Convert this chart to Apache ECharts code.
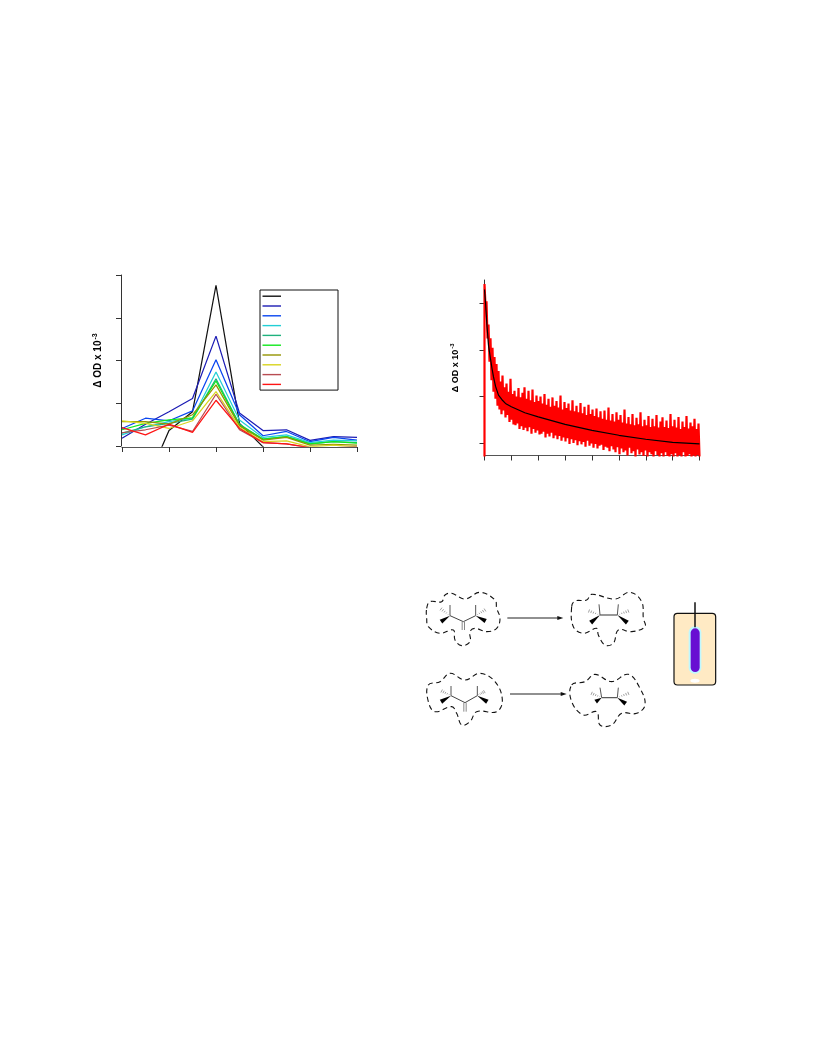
<!DOCTYPE html>
<html><head><meta charset="utf-8">
<style>html,body{margin:0;padding:0;background:#fff}#c{width:816px;height:1056px}</style>
<script src="https://cdn.jsdelivr.net/npm/echarts@6/dist/echarts.min.js"></script>
</head><body><div id="c"></div>
<script>
// ---------- Left chart data ----------
const specX = [0,0.5,1,1.5,2,2.5,3,3.5,4,4.5,5];
const black   = [-1.5,-0.9,0.36,0.80,3.76,0.53,-0.02,-0.4,-0.5,-0.5,-0.5];
const navy    = [0.18,0.51,0.80,1.11,2.57,0.77,0.36,0.38,0.13,0.22,0.20];
const blue    = [0.41,0.65,0.59,0.82,2.02,0.73,0.24,0.34,0.10,0.20,0.14];
const cyan    = [0.26,0.45,0.57,0.65,1.73,0.61,0.20,0.26,0.08,0.14,0.12];
const teal    = [0.30,0.45,0.53,0.63,1.57,0.51,0.16,0.22,0.05,0.10,0.08];
const green   = [0.38,0.53,0.61,0.66,1.52,0.49,0.16,0.22,0.05,0.10,0.07];
const olive   = [0.57,0.57,0.51,0.73,1.43,0.47,0.14,0.20,0.02,0.04,0.02];
const yellow  = [0.59,0.53,0.41,0.59,1.27,0.43,0.10,0.12,-0.02,0.02,-0.02];
const rosy    = [0.31,0.38,0.49,0.34,1.21,0.38,0.08,0.05,-0.04,-0.04,-0.02];
const red     = [0.43,0.26,0.51,0.32,1.07,0.41,0.08,0.05,-0.04,-0.05,-0.05];
const specRows = [black,navy,blue,cyan,teal,green,olive,yellow,rosy,red];
const specNames = ['t1','t2','t3','t4','t5','t6','t7','t8','t9','t10'];
const specColors = ['#111111','#1c1cb4','#0a46f0','#22cfd6','#1fb27e','#10e81c','#949400','#d8d41e','#b84c52','#ff1414'];

// ---------- Right chart data ----------
const traceValues = [-0.3,3.42,2.95,3.05,2.25,2.55,1.75,2.25,1.35,2.05,1.1,1.85,0.95,1.7,0.8,1.55,0.72,1.32,0.62,1.45,0.7,1.2,0.55,1.28,0.6,1.1,0.45,1.38,0.5,1.05,0.4,
1.12,0.38,1.0,0.42,1.18,0.3,0.98,0.36,1.08,0.28,1.2,0.33,0.95,0.25,1.12,0.34,0.92,0.2,1.15,0.3,0.88,0.22,1.02,0.27,0.9,0.18,
1.0,0.2,0.85,0.24,1.05,0.12,0.82,0.2,0.95,0.14,0.78,0.22,0.98,0.1,0.8,0.16,0.9,0.08,0.76,0.15,1.02,0.05,0.72,0.12,0.88,0.03,
0.75,0.1,0.85,-0.02,0.7,0.08,0.92,0,0.68,0.06,0.8,-0.05,0.66,0.04,0.86,-0.03,0.64,0.02,0.78,-0.08,0.6,0.05,0.82,-0.06,0.62,-0.01,0.72,
-0.1,0.58,-0.02,0.74,-0.12,0.55,-0.06,0.68,-0.04,0.52,-0.15,0.7,-0.08,0.5,-0.1,0.76,-0.18,0.48,-0.07,0.62,-0.14,0.46,-0.2,0.66,-0.09,0.5,-0.24,
0.6,-0.12,0.44,-0.2,0.72,-0.16,0.42,-0.27,0.56,-0.1,0.4,-0.22,0.62,-0.18,0.38,-0.3,0.54,-0.14,0.4,-0.25,0.66,-0.2,0.36,-0.28,0.5,-0.16,
0.38,-0.3,0.58,-0.2,0.34,-0.24,0.52,-0.32,0.36,-0.18,0.6,-0.26,0.33,-0.3,0.46,-0.22,0.55,-0.33,0.34,-0.2,0.48,-0.28,0.32,-0.3,0.62,-0.24,0.36,
-0.3,0.5,-0.22,0.33,-0.35,0.56,-0.26,0.3,-0.3,0.46,-0.2,0.34,-0.32,0.58,-0.28,0.31,-0.24,0.44,-0.34,0.36,-0.27,0.52,-0.3,0.3,-0.26,0.42,-0.3];
const traceSpan = 8;
const fitTime = [0,0.04,0.086,0.15,0.21,0.28,0.335,0.41,0.52,0.65,0.78,1,1.5,2,3,4,5,6,7,8];
const fitValue = [3.3,3.0,2.57,2.1,1.86,1.6,1.42,1.22,1.03,0.93,0.85,0.78,0.65,0.56,0.40,0.27,0.165,0.08,0.014,-0.02];

const AX = '#333';
function axisCommon(extra){
  return Object.assign({
    type:'value', splitLine:{show:false}, axisLabel:{show:false},
    axisLine:{show:true,onZero:false,lineStyle:{color:AX,width:1}},
    axisTick:{show:true,length:5,lineStyle:{color:AX,width:1}}
  },extra);
}
function odName(gap,size){
  return {name:'{a|\u0394 OD x 10}{s|-3}',nameLocation:'middle',nameRotate:90,nameGap:gap,
    nameTextStyle:{rich:{
      a:{fontFamily:'Liberation Sans',fontWeight:'bold',fontSize:size,color:'#000'},
      s:{fontFamily:'Liberation Sans',fontWeight:'bold',fontSize:size-3,color:'#000',verticalAlign:'top',padding:[0,0,6,1]}
    }}};
}

// ---------- Scheme drawing (illustration, not data) ----------
const SX = z => 415 + z/3, SY = z => 585 + z/3;
const g = [];
function ln(x1,y1,x2,y2,color,w,dash){
  g.push({type:'line',silent:true,shape:{x1:SX(x1),y1:SY(y1),x2:SX(x2),y2:SY(y2)},style:{stroke:color,lineWidth:w,lineDash:dash||null}});
}
function poly(pts,fill){
  g.push({type:'polygon',silent:true,shape:{points:pts.map(p=>[SX(p[0]),SY(p[1])])},style:{fill:fill,stroke:null}});
}
function blob(pts){
  g.push({type:'polygon',silent:true,shape:{points:pts.map(p=>[SX(p[0]),SY(p[1])]),smooth:0.4},
    style:{fill:null,stroke:'#111',lineWidth:1.1,lineDash:[5,3.5]}});
}
function wedge(x1,y1,x2,y2){
  const dx=x2-x1,dy=y2-y1,l=Math.hypot(dx,dy),nx=-dy/l*7,ny=dx/l*7;
  poly([[x1,y1],[x2+nx,y2+ny],[x2-nx,y2-ny]],'#000');
}
function hash(x1,y1,x2,y2){
  const dx=x2-x1,dy=y2-y1,l=Math.hypot(dx,dy),nx=-dy/l,ny=dx/l;
  for(let i=1;i<=5;i++){const f=i/5,w=f*5;
    ln(x1+dx*f-nx*w,y1+dy*f-ny*w,x1+dx*f+nx*w,y1+dy*f+ny*w,'#777',0.7);}
}
function centre(L,R,wl,wr,ul,ur,hl,hr,mid,end){
  const bond='#444';
  if(mid){ln(L[0],L[1],mid[0],mid[1],bond,1);ln(mid[0],mid[1],R[0],R[1],bond,1);
    ln(mid[0]-3.5,mid[1],end[0]-3.5,end[1],'#888',1);ln(mid[0]+3.5,mid[1],end[0]+3.5,end[1],'#888',1);}
  else ln(L[0],L[1],R[0],R[1],bond,1.1);
  ln(L[0],L[1],ul[0],ul[1],'#555',1);ln(R[0],R[1],ur[0],ur[1],'#555',1);
  wedge(L[0],L[1],wl[0],wl[1]);wedge(R[0],R[1],wr[0],wr[1]);
  hash(L[0],L[1],hl[0],hl[1]);hash(R[0],R[1],hr[0],hr[1]);
}
function arrow(x1,x2,y){
  ln(x1,y,x2-14,y,'#222',1.1);
  poly([[x2,y],[x2-18,y-6],[x2-18,y+6]],'#111');
}
blob([[35,70],[45,50],[80,50],[90,30],[110,25],[150,42],[195,22],[240,45],[245,70],[255,100],[245,130],[215,140],[180,130],[165,140],[165,170],[140,182],[120,165],[115,135],[75,145],[40,125],[35,100]]);
blob([[470,65],[480,48],[515,45],[530,28],[600,42],[645,22],[680,50],[685,100],[690,125],[650,140],[610,135],[595,175],[570,180],[550,150],[545,130],[505,145],[475,125]]);
blob([[40,300],[75,290],[105,265],[150,285],[195,265],[240,290],[262,345],[245,380],[185,380],[165,410],[140,420],[125,385],[110,365],[60,380],[40,350]]);
blob([[470,300],[510,290],[540,268],[590,290],[640,268],[675,310],[690,360],[665,385],[620,385],[590,420],[555,420],[545,380],[505,390],[470,350]]);
centre([105,92],[182,92],[78,110],[212,108],[105,60],[182,60],[78,72],[210,75],[145,110],[145,135]);
centre([555,90],[607,90],[527,113],[637,113],[552,58],[610,58],[522,78],[640,78]);
centre([108,332],[187,332],[78,350],[217,350],[108,303],[187,303],[80,318],[208,320],[150,353],[150,380]);
centre([560,338],[607,338],[542,350],[632,356],[555,308],[610,308],[530,325],[640,325]);
arrow(277,445,99);
arrow(285,455,327);
// sample cell
g.push({type:'rect',silent:true,shape:{x:SX(777),y:SY(85),width:125/3,height:215/3,r:3.5},style:{fill:'#ffeac4',stroke:'#111',lineWidth:1.2}});
g.push({type:'rect',silent:true,shape:{x:SX(821),y:SY(124),width:38/3,height:142/3,r:6},style:{fill:'#bff8ff'}});
g.push({type:'rect',silent:true,shape:{x:SX(827),y:SY(130),width:27/3,height:131/3,r:4.5},style:{fill:'#680fd2'}});
g.push({type:'ellipse',silent:true,shape:{cx:SX(840),cy:SY(287),rx:4.7,ry:2},style:{fill:'#fff'}});
ln(840,52,840,127,'#111',1.5);

const chart = echarts.init(document.getElementById('c'),null,{renderer:'canvas'});
const traceStep = traceSpan/(traceValues.length-2);
chart.setOption({
  animation:false, backgroundColor:'#fff',
  grid:[
    {left:122,top:275,width:235,height:171,containLabel:false},
    {left:484.5,top:280,width:215,height:175.5,containLabel:false}
  ],
  xAxis:[
    axisCommon({gridIndex:0,min:0,max:5,interval:1,offset:1,axisLine:{show:true,onZero:false,lineStyle:{color:'#555',width:1.2}}}),
    axisCommon({gridIndex:1,min:0,max:8,interval:1,axisLine:{show:true,onZero:false,lineStyle:{color:'#555',width:1.2}}})
  ],
  yAxis:[
    axisCommon(Object.assign({gridIndex:0,min:0,max:4,interval:1,offset:1},odName(16,10))),
    axisCommon(Object.assign({gridIndex:1,min:-0.27,max:3.506,axisTick:{show:true,length:5,customValues:[0,1,2,3],lineStyle:{color:AX,width:1}}},odName(23,9)))
  ],
  legend:{
    left:260,top:290,orient:'vertical',data:specNames,icon:'rect',itemWidth:18.5,itemHeight:1.4,itemGap:8.4,
    padding:[5.5,52,5,2.5],borderColor:'#111',borderWidth:1,backgroundColor:'#fff',
    formatter:()=> '',textStyle:{fontSize:1,lineHeight:1},selectedMode:false
  },
  series:[
    ...specRows.map((row,i)=>({
      name:specNames[i],type:'line',xAxisIndex:0,yAxisIndex:0,showSymbol:false,symbol:'none',clip:true,
      data:row.map((v,k)=>[specX[k],v]),
      lineStyle:{color:specColors[i],width:1.25},itemStyle:{color:specColors[i]}
    })),
    {name:'trace',type:'line',xAxisIndex:1,yAxisIndex:1,symbol:'none',showSymbol:false,clip:true,
      data:traceValues.map((v,k)=>[Math.max(0,k-1)*traceStep,v]),
      lineStyle:{color:'#ff0000',width:2.2,join:'bevel'},itemStyle:{color:'#ff0000'}},
    {name:'fit',type:'line',xAxisIndex:1,yAxisIndex:1,symbol:'none',showSymbol:false,clip:true,
      data:fitTime.map((t,k)=>[t,fitValue[k]]),
      lineStyle:{color:'#000',width:1.2},itemStyle:{color:'#000'}}
  ],
  graphic:{elements:g}
});
</script></body></html>
